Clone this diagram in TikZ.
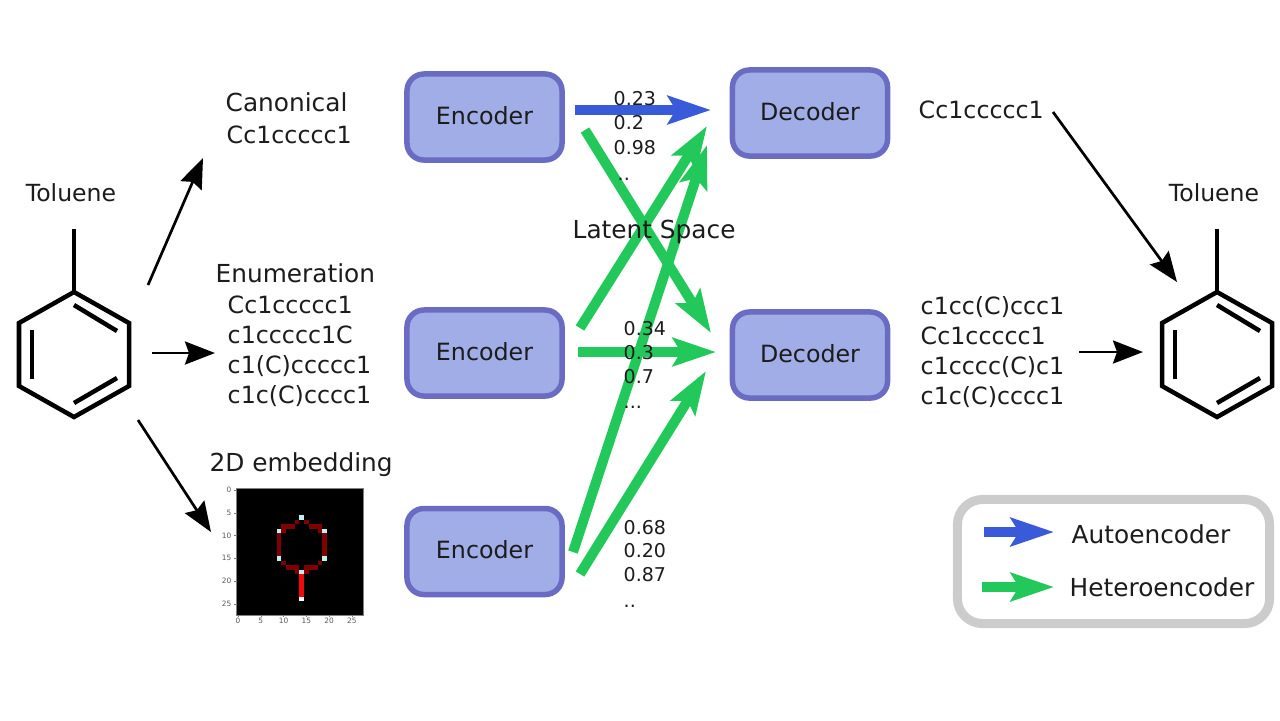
\documentclass[tikz,border=0pt]{standalone}
\usepackage{fontspec}
\setmainfont{DejaVu Sans}
\usepackage{tikz}
\usetikzlibrary{arrows.meta,positioning}
\definecolor{boxfill}{RGB}{161,173,230}
\definecolor{boxline}{RGB}{106,108,196}
\definecolor{autoblue}{RGB}{58,91,217}
\definecolor{heterogreen}{RGB}{34,201,90}
\definecolor{legendgray}{RGB}{204,204,204}
\definecolor{textblack}{RGB}{28,28,28}
\definecolor{bonddark}{RGB}{128,0,0}
\definecolor{bondred}{RGB}{240,10,10}
\definecolor{atomcyan}{RGB}{190,240,240}
\tikzset{
  coder/.style={draw=boxline,fill=boxfill,line width=0.055cm,rounded corners=0.17cm,minimum width=1.55cm,minimum height=0.86cm,inner sep=0pt,text depth=0.04cm,font=\fontsize{6.75}{8}\selectfont,text=textblack},
  lbl/.style={anchor=mid west,inner sep=0pt,font=\fontsize{7.05}{8}\selectfont,text=textblack},
  smiles/.style={anchor=mid west,inner sep=0pt,yshift=0.01cm,font=\fontsize{6.75}{8}\selectfont,text=textblack},
  latentnum/.style={anchor=mid west,inner sep=0pt,yshift=0.02cm,font=\fontsize{5.4}{7}\selectfont,text=textblack},
  tolabel/.style={inner sep=0pt,font=\fontsize{6.7}{8}\selectfont,text=textblack},
  tick/.style={inner sep=0pt,font=\fontsize{2.1}{3}\selectfont,text=black!65},
  bond/.style={line width=0.045cm,black},
  blackarrow/.style={line width=0.027cm,black,-{Stealth[length=0.3cm,width=0.23cm,inset=0.04cm]}},
  autoarrow/.style={line width=0.1cm,autoblue,-{Stealth[length=0.43cm,width=0.28cm,inset=0.08cm]}},
  heteroarrow/.style={line width=0.1cm,heterogreen,-{Stealth[length=0.43cm,width=0.28cm,inset=0.08cm]}},
}
\begin{document}
\begin{tikzpicture}[x=0.01cm,y=-0.01cm]
\useasboundingbox (0,0) rectangle (1280,720);
\fill[white] (0,0) rectangle (1280,720);

% Molecules
\foreach \ox in {0,1143}{
  \draw[bond] (74+\ox,229) -- (74+\ox,292);
  \draw[bond] (74+\ox,292) -- (129+\ox,323) -- (129+\ox,386) -- (74+\ox,417) -- (19+\ox,386) -- (19+\ox,323) -- cycle;
  \draw[bond] (74+\ox,305) -- (117+\ox,331);
  \draw[bond] (32+\ox,330) -- (32+\ox,379);
  \draw[bond] (74+\ox,403) -- (117+\ox,378);
}

% Encoders and decoders
\node[coder] (enc1) at (484.5,117) {Encoder};
\node[coder] (enc2) at (484.5,353) {Encoder};
\node[coder] (enc3) at (484.5,551.5) {Encoder};
\node[coder] (dec1) at (810,113) {Decoder};
\node[coder] (dec2) at (810,355) {Decoder};

% Arrow ends
\coordinate (mola) at (148,285);
\coordinate (molb) at (152,353);
\coordinate (molc) at (138,420);
\coordinate (cana) at (203,158);
\coordinate (enua) at (215,353);
\coordinate (emba) at (211,532);
\coordinate (outa) at (1053,112);
\coordinate (outb) at (1177,282);
\coordinate (outc) at (1079,352);
\coordinate (outd) at (1143,352);
\coordinate (e1a) at (575,110);
\coordinate (e1b) at (585,130);
\coordinate (e2a) at (580,328);
\coordinate (e2b) at (578,352);
\coordinate (e3a) at (573,552);
\coordinate (e3b) at (580,574);
\coordinate (d1a) at (711,110);
\coordinate (d1b) at (707,126);
\coordinate (d1c) at (707,145);
\coordinate (d2a) at (711,333);
\coordinate (d2b) at (716,352);
\coordinate (d2c) at (706,371);

% Black arrows
\draw[blackarrow] (mola) -- (cana);
\draw[blackarrow] (molb) -- (enua);
\draw[blackarrow] (molc) -- (emba);
\draw[blackarrow] (outa) -- (outb);
\draw[blackarrow] (outc) -- (outd);

% Latent arrows
\draw[heteroarrow] (e1b) -- (d2a);
\draw[heteroarrow] (e2a) -- (d1b);
\draw[heteroarrow] (e3a) -- (d1c);
\draw[heteroarrow] (e2b) -- (d2b);
\draw[heteroarrow] (e3b) -- (d2c);
\draw[autoarrow] (e1a) -- (d1a);

% Labels
\node[tolabel] (tol1) at (71,193) {Toluene};
\node[tolabel] (tol2) at (1214,193) {Toluene};
\node[lbl] (can) at (225,102) {Canonical};
\node[smiles] (can1) at (226,135) {Cc1ccccc1};
\node[lbl] (enu) at (215,273) {Enumeration};
\node[smiles] (enu1) at (227,305) {Cc1ccccc1};
\node[smiles] (enu2) at (227,335) {c1ccccc1C};
\node[smiles] (enu3) at (227,365) {c1(C)ccccc1};
\node[smiles] (enu4) at (227,395) {c1c(C)cccc1};
\node[lbl] (emb) at (209,462) {2D embedding};
\node[lbl] (lat) at (572,229) {Latent Space};
\node[smiles] (out1) at (918,110) {Cc1ccccc1};
\node[smiles] (out2) at (920,306) {c1cc(C)ccc1};
\node[smiles] (out3) at (920,336) {Cc1ccccc1};
\node[smiles] (out4) at (920,366) {c1cccc(C)c1};
\node[smiles] (out5) at (920,396) {c1c(C)cccc1};

% Latent values
\node[latentnum] (la) at (613,98) {0.23};
\node[latentnum] (lb) at (613,122) {0.2};
\node[latentnum] (lc) at (613,147) {0.98};
\node[latentnum] (ld) at (617,173) {..};
\node[latentnum] (ma) at (623,328) {0.34};
\node[latentnum] (mb) at (623,352) {0.3};
\node[latentnum] (mc) at (623,376) {0.7};
\node[latentnum] (md) at (623,401) {...};
\node[latentnum] (na) at (623,527) {0.68};
\node[latentnum] (nb) at (623,550) {0.20};
\node[latentnum] (nc) at (623,574) {0.87};
\node[latentnum] (nd) at (623,600) {..};

% 2D embedding image
\fill[black] (236,488) rectangle (363,615);
\draw[black!50,line width=0.005cm] (236,488) rectangle (363,615);
\foreach \cx/\cy in {13/7,12/8,11/8,10/8,10/9,15/7,16/8,17/8,18/8,18/9,9/10,9/11,9/12,9/13,9/14,19/10,19/11,19/12,19/13,19/14,10/16,11/17,12/17,13/17,13/18,15/18,15/17,16/17,17/17,18/16}
  \fill[bonddark] ({235.7+4.55*\cx},{487.7+4.55*\cy}) rectangle +(4.55,4.55);
\foreach \cy in {19,...,23}
  \fill[bondred] ({235.2+4.55*14},{487.7+4.55*\cy}) rectangle +(5.55,4.55);
\foreach \cx/\cy in {14/6,9/9,19/9,9/15,19/15,14/18}
  \fill[atomcyan] ({235.7+4.55*\cx},{487.7+4.55*\cy}) rectangle +(4.55,4.55);
\fill[white] ({235.7+4.55*14},{487.7+4.55*24}) rectangle +(4.55,4.55);
\foreach \t in {0,5,...,25}{
  \draw[black!50,line width=0.005cm] ({238+4.55*\t},615) -- +(0,2);
  \draw[black!50,line width=0.005cm] (236,{490+4.55*\t}) -- +(-2,0);
  \node[tick] at ({238+4.55*\t},621) {\t};
  \node[tick,anchor=east] at (232,{490+4.55*\t}) {\t};
}

% Legend
\node[draw=legendgray,line width=0.09cm,rounded corners=0.25cm,minimum width=3.12cm,minimum height=1.24cm] (legend) at (1113.5,561.5) {};
\coordinate (lga) at (984,532);
\coordinate (lgb) at (1054,532);
\coordinate (lgc) at (982,587);
\coordinate (lgd) at (1054,587);
\draw[autoarrow] (lga) -- (lgb);
\draw[heteroarrow] (lgc) -- (lgd);
\node[lbl] (auto) at (1071,534) {Autoencoder};
\node[lbl] (hetero) at (1069,587) {Heteroencoder};
\end{tikzpicture}
\end{document}
